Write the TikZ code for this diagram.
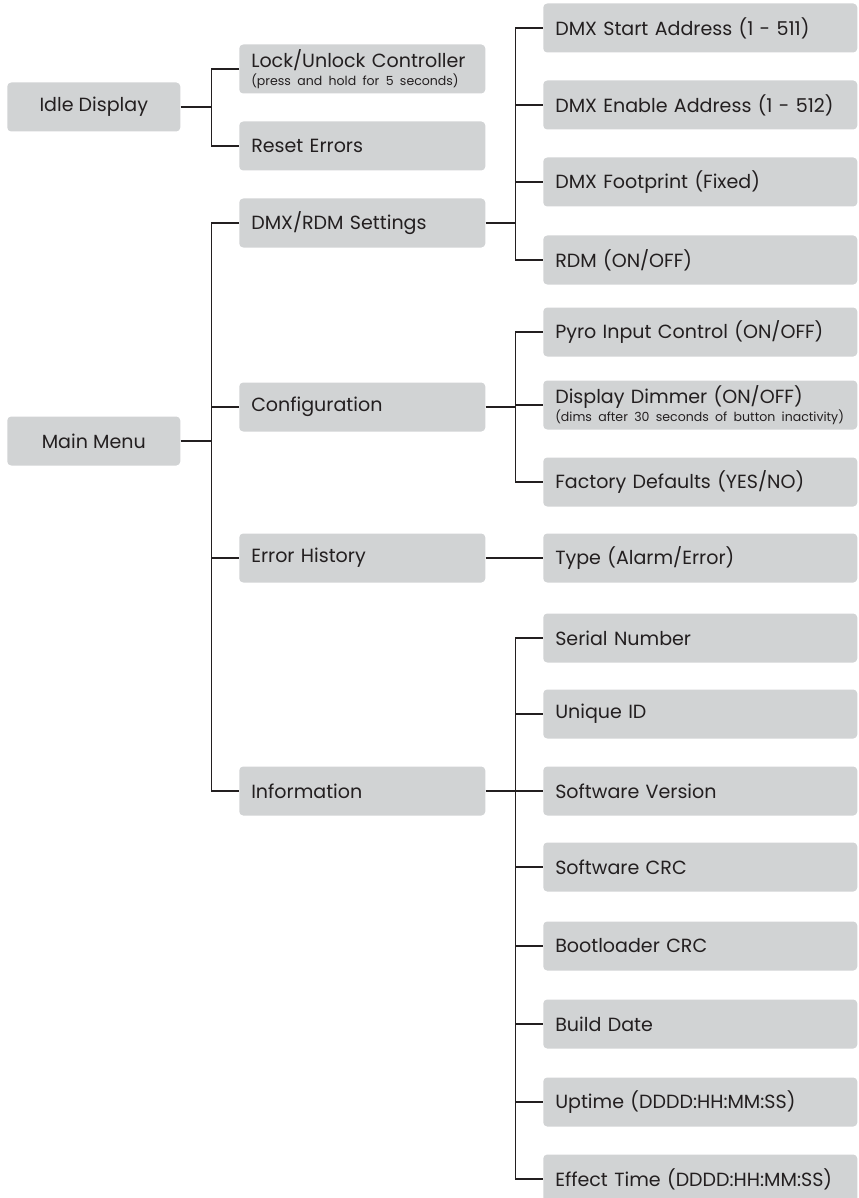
\documentclass[tikz,border=0pt]{standalone}
\usepackage{fontspec}
\setmainfont{Poppins}
\definecolor{boxgray}{HTML}{D1D3D4}
\definecolor{linedark}{HTML}{231F20}
\tikzset{
  menubox/.style={fill=boxgray,rounded corners=3pt,minimum height=36.75pt,inner xsep=9pt,anchor=west,text=linedark,font=\fontsize{14.3}{15}\selectfont},
  rootbox/.style={menubox,minimum width=129.75pt,align=center},
  midbox/.style={menubox,text width=166.5pt,align=left},
  leafbox/.style={menubox,text width=217.5pt,align=left},
  link/.style={draw=linedark,line width=1.4pt}
}
\newcommand{\subnote}[1]{\mbox{\fontsize{9.4}{10}\selectfont #1}}
\begin{document}
\begin{tikzpicture}[x=0.75pt,y=-0.75pt]
    \useasboundingbox (0,0) rectangle (859,1198);

    %Columna izquierda
    \node[rootbox] (idle) at (7,107) {Idle Display};
    \node[rootbox] (mainmenu) at (7,441) {Main Menu};

    %Columna central
    \node[midbox] (lock) at (239,69) {Lock/Unlock Controller\\[-1.5pt]\subnote{(press and hold for 5 seconds)}};
    \node[midbox] (reset) at (239,146) {Reset Errors};
    \node[midbox] (dmxrdm) at (239,223) {DMX/RDM Settings};
    \node[midbox] (config) at (239,407) {Configuration};
    \node[midbox] (errhist) at (239,558) {Error History};
    \node[midbox] (info) at (239,791) {Information};

    %Columna derecha
    \foreach \y/\n/\t in {28/dmxa/{DMX Start Address (1 - 511)},105/dmxb/{DMX Enable Address (1 - 512)},
        182/dmxc/{DMX Footprint (Fixed)},260/dmxd/{RDM (ON/OFF)},
        332/cfga/{Pyro Input Control (ON/OFF)},
        405/cfgb/{Display Dimmer (ON/OFF)\\[-1.5pt]\subnote{(dims after 30 seconds of button inactivity)}},
        482/cfgc/{Factory Defaults (YES/NO)},558/errtype/{Type (Alarm/Error)}}{
        \node[leafbox] (\n) at (543,\y) {\t};
    }
    \foreach \y/\n/\t in {638/infa/{Serial Number},714/infb/{Unique ID},791/infc/{Software Version},
        867/infd/{Software CRC},946/infe/{Bootloader CRC},1024/inff/{Build Date},
        1102/infg/{Uptime (DDDD:HH:MM:SS)},1179/infh/{Effect Time (DDDD:HH:MM:SS)}}{
        \node[leafbox] (\n) at (543,\y) {\t};
    }

    %Conectores
    \draw[link] (idle.east) -- ++(31,0) coordinate (jidle);
    \draw[link] (lock.west) -| (jidle) |- (reset.west);

    \draw[link] (mainmenu.east) -- ++(31,0) coordinate (jmain);
    \draw[link] (dmxrdm.west) -| (jmain) |- (info.west);
    \foreach \n in {config,errhist}{
        \draw[link] (jmain |- \n.west) -- (\n.west);
    }

    \draw[link] (dmxrdm.east) -- ++(30,0) coordinate (jdmx);
    \draw[link] (dmxa.west) -| (jdmx) |- (dmxd.west);
    \foreach \n in {dmxb,dmxc}{
        \draw[link] (jdmx |- \n.west) -- (\n.west);
    }

    \draw[link] (config.east) -- ++(30,0) coordinate (jcfg);
    \draw[link] (cfga.west) -| (jcfg) |- (cfgc.west);
    \draw[link] (jcfg |- cfgb.west) -- (cfgb.west);

    \draw[link] (errhist.east) -- (errtype.west);

    \draw[link] (info.east) -- ++(30,0) coordinate (jinfo);
    \draw[link] (infa.west) -| (jinfo) |- (infh.west);
    \foreach \n in {infb,infc,infd,infe,inff,infg}{
        \draw[link] (jinfo |- \n.west) -- (\n.west);
    }
\end{tikzpicture}
\end{document}
